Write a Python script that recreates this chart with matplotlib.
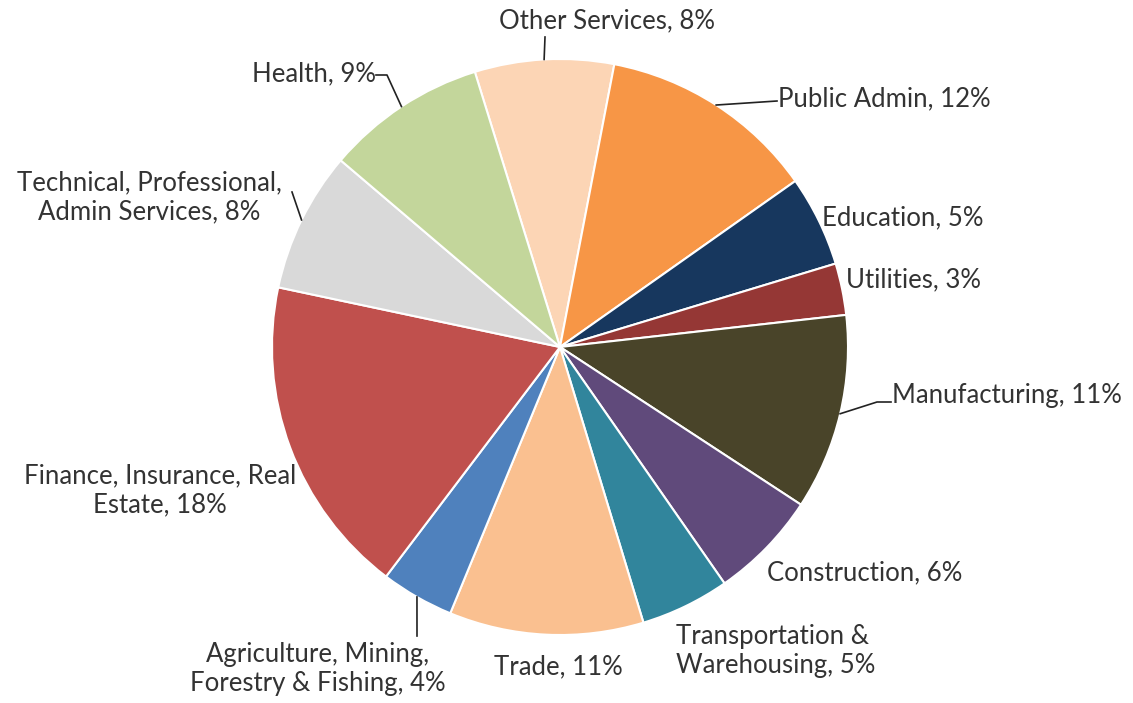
import numpy as np
import matplotlib
matplotlib.use('Agg')
import matplotlib.pyplot as plt
import matplotlib.patches as patches

# sector shares (percent), clockwise from the top
sectors = ['Other Services', 'Public Admin', 'Education', 'Utilities', 'Manufacturing',
           'Construction', 'Transportation & Warehousing', 'Trade',
           'Agriculture, Mining, Forestry & Fishing', 'Finance, Insurance, Real Estate',
           'Technical, Professional, Admin Services', 'Health']
shares = [7.8, 12.2, 5.1, 2.9, 11.0, 6.1, 5.0, 10.9, 4.1, 18.0, 7.9, 9.0]
label_text = ['Other Services, 8%', 'Public Admin, 12%', 'Education, 5%', 'Utilities, 3%',
              'Manufacturing, 11%', 'Construction, 6%', 'Transportation &\nWarehousing, 5%',
              'Trade, 11%', 'Agriculture, Mining,\nForestry & Fishing, 4%',
              'Finance, Insurance, Real\nEstate, 18%', 'Technical, Professional,\nAdmin Services, 8%',
              'Health, 9%']
colors = ['#FCD5B5', '#F79646', '#17375E', '#953735', '#494429', '#604A7B',
          '#31859C', '#FAC090', '#4F81BD', '#C0504D', '#D9D9D9', '#C3D69B']

W, H = 1133, 703
fig = plt.figure(figsize=(W / 100, H / 100), dpi=100, facecolor='white')
ax = fig.add_axes([0, 0, 1, 1])


def py(y):
    # pixel row measured from the top -> data y
    return H - y


cx, cy, r = 560, py(347), 288
wedges, _ = ax.pie(shares, colors=colors, startangle=107.2, counterclock=False,
                   center=(cx, cy), radius=r, frame=True,
                   wedgeprops=dict(edgecolor='white', linewidth=1.5))
ax.set_xlim(0, W)
ax.set_ylim(0, H)
ax.set_aspect('equal')
ax.axis('off')

# label layout: (x, y, ha, leader path from pie edge)
layout = {
    'Other Services': (607, 21, 'center', [(545, 37)]),
    'Public Admin': (778, 99, 'left', [(777, 101)]),
    'Education': (822, 218, 'left', None),
    'Utilities': (846, 280, 'left', None),
    'Manufacturing': (892, 395, 'left', [(877, 402), (891, 402)]),
    'Construction': (767, 573, 'left', None),
    'Transportation & Warehousing': (676, 651, 'left', None),
    'Trade': (558, 667, 'center', None),
    'Agriculture, Mining, Forestry & Fishing': (318, 669, 'center', [(417, 636)]),
    'Finance, Insurance, Real Estate': (160, 490, 'center', None),
    'Technical, Professional, Admin Services': (149, 197, 'center', [(292, 192)]),
    'Health': (376, 74, 'right', [(387, 75), (376, 75)]),
}

clip = patches.Rectangle((14, 0), W - 14, H, transform=ax.transData, visible=False)
ax.add_patch(clip)

for w, name, txt in zip(wedges, sectors, label_text):
    x, y, ha, path = layout[name]
    t = ax.text(x, py(y), txt, ha=ha, va='center', ma=ha,
                fontsize=18.5, family='Lato', color='#333333', linespacing=1.2)
    t.set_clip_path(clip)
    if path:
        mid = np.deg2rad((w.theta1 + w.theta2) / 2)
        ex, ey = cx + r * np.cos(mid), cy + r * np.sin(mid)
        xs = [ex] + [p[0] for p in path]
        ys = [ey] + [py(p[1]) for p in path]
        ax.plot(xs, ys, color='#222222', linewidth=1.2)

plt.savefig('out.png', dpi=100, facecolor='white')
